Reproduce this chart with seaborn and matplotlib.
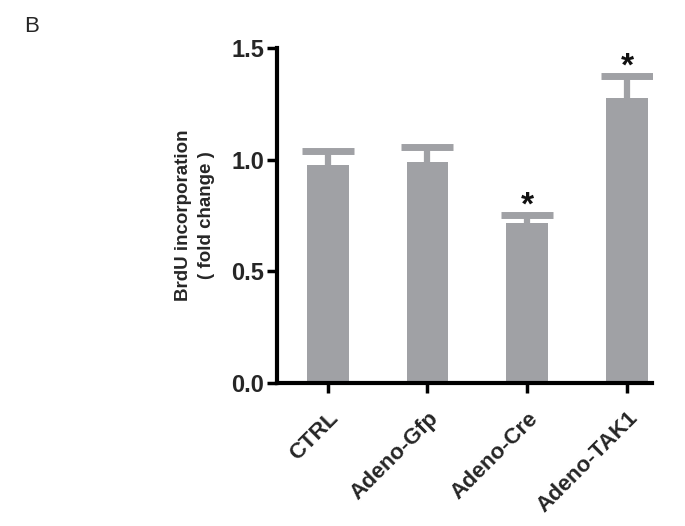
"""
Panel B: BrdU incorporation (fold change) per adenoviral treatment.
"""
import matplotlib
matplotlib.use("Agg")
import matplotlib.pyplot as plt
import seaborn as sns
import pandas as pd

# Values
groups = ["CTRL", "Adeno-Gfp", "Adeno-Cre", "Adeno-TAK1"]
means = [0.976, 0.991, 0.718, 1.275]
sem = [0.064, 0.067, 0.034, 0.100]
significant = [False, False, True, True]

BAR_GREY = "#a0a1a5"

sns.set_theme(style="ticks")
plt.rcParams["font.family"] = ["Liberation Sans", "DejaVu Sans"]

df = pd.DataFrame({"group": groups, "value": means})

fig = plt.figure(figsize=(6.85, 5.26), dpi=100)
ax = fig.add_axes([0.404, 0.272, 0.548, 0.637])

sns.barplot(data=df, x="group", y="value", order=groups, color=BAR_GREY,
            saturation=1, width=0.42, errorbar=None, linewidth=0,
            ax=ax, zorder=2)

# upper-only SEM bars: hide the lower cap
x_pos = list(range(len(groups)))
_, caps, _ = ax.errorbar(x_pos, means, yerr=[[0] * len(sem), sem], fmt="none",
                         ecolor=BAR_GREY, elinewidth=4.5, capsize=19,
                         capthick=5, zorder=1)
caps[0].set_visible(False)

for xi, m, s, sig in zip(x_pos, means, sem, significant):
    if sig:
        ax.text(xi, m + s - 0.03, "*", ha="center", va="bottom",
                fontsize=24, fontweight="bold", color="#111111")

ax.set_xlim(-0.51, 3.25)
ax.set_ylim(0, 1.5)
ax.set_yticks([0.0, 0.5, 1.0, 1.5])
ax.set_yticklabels(["0.0", "0.5", "1.0", "1.5"], fontsize=17, fontweight="bold")
ax.set_xticks(x_pos)
ax.set_xticklabels(groups, rotation=45, ha="right", rotation_mode="anchor",
                   fontsize=16, fontweight="bold")
ax.set_xlabel("")
ax.set_ylabel("BrdU incorporation\n( fold change )", fontsize=13.5,
              fontweight="bold", labelpad=12, linespacing=1.45)

sns.despine(ax=ax)
for side in ["left", "bottom"]:
    ax.spines[side].set_linewidth(3)
    ax.spines[side].set_color("black")
ax.tick_params(axis="both", width=2.5, length=7, color="black", pad=2)
ax.tick_params(axis="x", pad=11)

fig.text(0.035, 0.97, "B", fontsize=16, ha="left", va="top")

fig.savefig("out.png", dpi=100, facecolor="white")
plt.close(fig)
